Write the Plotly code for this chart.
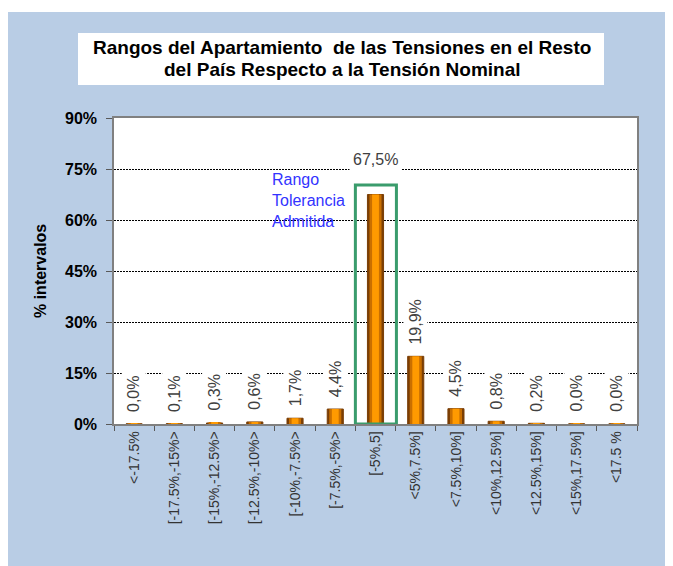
import plotly.graph_objects as go

# categorias y valores (% de intervalos)
categorias = ["<-17.5%", "[-17.5%,-15%>", "[-15%,-12.5%>", "[-12.5%,-10%>",
              "[-10%,-7.5%>", "[-7.5%,-5%>", "[-5%,5]", "<5%,7.5%]",
              "<7.5%,10%]", "<10%,12.5%]", "<12.5%,15%]", "<15%,17.5%]", "<17.5 %"]
valores = [0.04, 0.1, 0.3, 0.6, 1.7, 4.4, 67.5, 19.9, 4.5, 0.8, 0.2, 0.04, 0.04]
ticks_y = [0, 15, 30, 45, 60, 75, 90]
titulo_1 = "<b>Rangos del Apartamiento  de las Tensiones en el Resto</b>"
titulo_2 = "<b>del País Respecto a la Tensión Nominal</b>"

FONT = "Liberation Sans, Arial, sans-serif"
OFF = 8  # margen del body de la pagina
W, H = 673, 566
L, R, T, B = 114 - OFF, 44, 118 - OFF, 150
PW, PH = W - L - R, H - T - B


# coordenadas de pantalla -> paper
def px_x(p):
    return (p - OFF - L) / PW


def px_y(p):
    return (H - B - (p - OFF)) / PH


fig = go.Figure()

# barras con efecto de degradado (tres capas superpuestas)
for ancho, color, linea in [(0.40, "#7A3E05", 1), (0.30, "#C96F00", 0), (0.17, "#FF9A00", 0)]:
    fig.add_trace(go.Bar(
        x=categorias, y=valores, width=ancho,
        marker=dict(color=color, line=dict(color="#7A3E05", width=linea)),
        hoverinfo="skip", showlegend=False,
    ))

# etiquetas de valores
anots = []
for c, v in zip(categorias, valores):
    txt = f"{v:.1f}".replace(".", ",") + "%"
    if v > 50:
        anots.append(dict(x=c, y=v, text=txt, showarrow=False, yanchor="bottom",
                          yshift=23, font=dict(family=FONT, size=16, color="#404040"),
                          bgcolor="white", borderpad=3))
    else:
        anots.append(dict(x=c, y=v, text=txt, showarrow=False, yanchor="bottom",
                          textangle=-90, yshift=8,
                          font=dict(family=FONT, size=16, color="#404040"),
                          bgcolor="white", borderpad=3))

# texto de la tolerancia
anots.append(dict(x=3.38, y=65.6, xref="x", yref="y", text="Rango<br>Tolerancia<br>Admitida",
                  showarrow=False, xanchor="left", yanchor="middle", align="left",
                  font=dict(family=FONT, size=16, color="#3333FF")))

# titulo (dos lineas)
for txt, yy in [(titulo_1, 48), (titulo_2, 70)]:
    anots.append(dict(x=px_x(342), y=px_y(yy), xref="paper", yref="paper", text=txt,
                      showarrow=False, xanchor="center", yanchor="middle",
                      font=dict(family=FONT, size=19, color="black")))

# titulo eje y
anots.append(dict(x=px_x(40), y=0.5, xref="paper", yref="paper", text="<b>% intervalos</b>",
                  showarrow=False, textangle=-90, xanchor="center", yanchor="middle",
                  font=dict(family=FONT, size=16, color="black")))

shapes = [
    # franja blanca superior
    dict(type="rect", xref="paper", yref="paper", x0=px_x(-20), x1=px_x(W + 20),
         y0=px_y(12), y1=px_y(-20), fillcolor="white", line=dict(width=0), layer="below"),
    # recuadro blanco del titulo
    dict(type="rect", xref="paper", yref="paper", x0=px_x(78), x1=px_x(604),
         y0=px_y(85), y1=px_y(33), fillcolor="white", line=dict(width=0), layer="below"),
    # recuadro verde de tolerancia
    dict(type="rect", xref="x", yref="y", x0=5.5, x1=6.52, y0=0, y1=70.3,
         line=dict(color="#3A9C6C", width=3), fillcolor="rgba(0,0,0,0)", layer="above"),
]

fig.update_layout(
    width=W, height=H,
    margin=dict(l=L, r=R, t=T, b=B),
    paper_bgcolor="#B9CDE5",
    plot_bgcolor="white",
    barmode="overlay",
    bargap=0.6,
    annotations=anots,
    shapes=shapes,
    showlegend=False,
    xaxis=dict(
        type="category", tickangle=-90, tickson="boundaries", ticks="outside", ticklen=5,
        tickcolor="#595959", showline=True, linecolor="#808080", linewidth=1.5, mirror=True,
        showgrid=False, tickfont=dict(family=FONT, size=14, color="#333333"),
        range=[-0.5, len(categorias) - 0.5],
    ),
    yaxis=dict(
        range=[0, 90], tickvals=ticks_y, ticktext=[f"{t}%" for t in ticks_y],
        ticks="outside", ticklen=6, tickcolor="#595959", showline=True,
        linecolor="#808080", linewidth=1.5, mirror=True, zeroline=False,
        showgrid=True, gridcolor="black", gridwidth=1, griddash="2px,1px",
        tickfont=dict(family=FONT, size=16, color="black", weight="bold"),
        ticklabelstandoff=6,
    ),
)

fig.write_html("out.html")
